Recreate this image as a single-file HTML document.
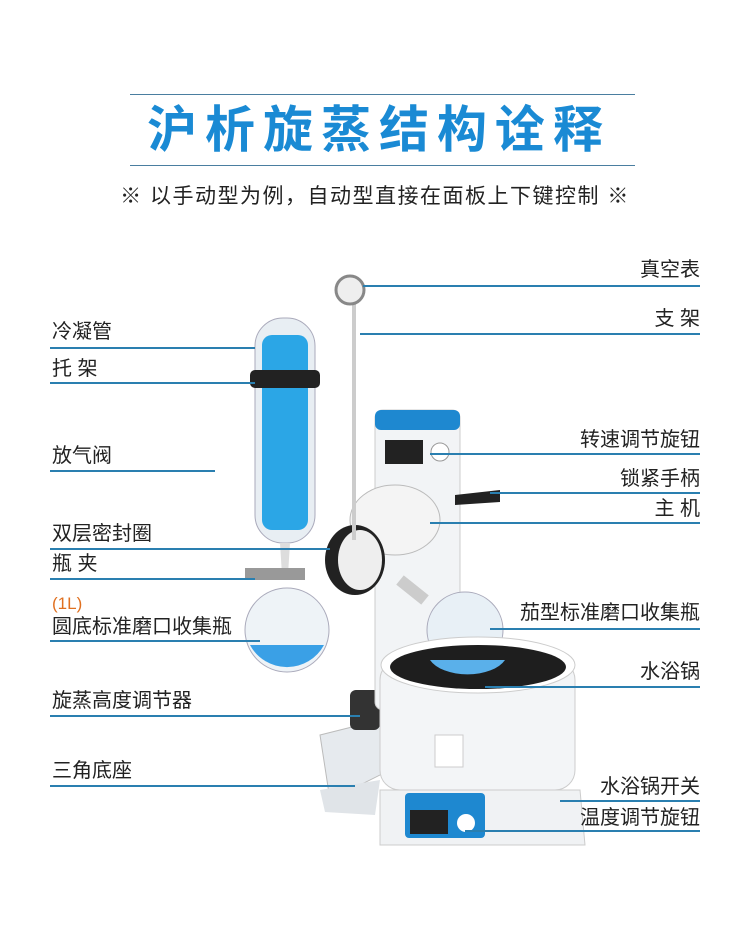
<!DOCTYPE html>
<html><head><meta charset="utf-8"><style>
body{margin:0;background:#fff;}
.w{position:relative;width:750px;height:940px;overflow:hidden;font-family:"Liberation Sans","Noto Sans CJK SC",sans-serif;}
.t{position:absolute;font-size:20px;color:#222;white-space:nowrap;line-height:1;}
.r{text-align:right;right:50px;}
.l{left:52px;}
.ln{position:absolute;height:1.5px;background:#2a7fb0;}
</style></head><body><div class="w">
<div style="position:absolute;left:130px;top:94px;width:505px;height:1px;background:#4a7ea0"></div>
<div style="position:absolute;left:130px;top:165px;width:505px;height:1px;background:#4a7ea0"></div>
<div style="position:absolute;left:0;width:750px;top:100px;text-align:center;font-size:50px;font-weight:bold;color:#1a8ad4;letter-spacing:8px;text-indent:8px;line-height:60px">沪析旋蒸结构诠释</div>
<div style="position:absolute;left:0;width:750px;top:180px;text-align:center;font-size:21px;letter-spacing:1.5px;color:#222;">※ 以手动型为例，自动型直接在面板上下键控制 ※</div>

<svg width="750" height="940" style="position:absolute;left:0;top:0">
<path d="M320 735 L380 720 L390 770 L330 800 Z" fill="#e6eaee" stroke="#bbb"/>
<path d="M320 790 L380 780 L375 815 L325 812 Z" fill="#e0e4e8"/>
<rect x="350" y="690" width="30" height="40" rx="6" fill="#333"/>
<rect x="375" y="410" width="85" height="300" rx="8" fill="#f2f4f6" stroke="#ccc"/>
<rect x="375" y="410" width="85" height="20" rx="6" fill="#1e88d0"/>
<rect x="385" y="440" width="38" height="24" fill="#222"/>
<circle cx="440" cy="452" r="9" fill="#fff" stroke="#999"/>
<path d="M455 495 L500 490 L500 502 L455 505Z" fill="#222"/>
<ellipse cx="395" cy="520" rx="45" ry="35" fill="#f4f4f4" stroke="#bbb"/>
<ellipse cx="355" cy="560" rx="30" ry="35" fill="#222"/>
<ellipse cx="360" cy="560" rx="22" ry="30" fill="#eee"/>
<rect x="352" y="300" width="4" height="240" fill="#ccc"/>
<circle cx="350" cy="290" r="14" fill="#eee" stroke="#888" stroke-width="3"/>
<rect x="255" y="318" width="60" height="225" rx="28" fill="#e8eef3" stroke="#aab"/>
<rect x="262" y="335" width="46" height="195" rx="10" fill="#2ba6e6"/>
<rect x="250" y="370" width="70" height="18" rx="5" fill="#222"/>
<path d="M280 543 L290 543 L288 575 L282 575Z" fill="#ddd"/>
<rect x="245" y="568" width="60" height="12" fill="#999"/>
<circle cx="287" cy="630" r="42" fill="#eef3f7" stroke="#aab"/>
<path d="M250 645 A42 42 0 0 0 324 645 Z" fill="#3aa0e6"/>
<path d="M400 580 L425 600" stroke="#ccc" stroke-width="12"/>
<circle cx="465" cy="630" r="38" fill="#e8f0f6" stroke="#aab"/>
<rect x="380" y="660" width="195" height="130" rx="20" fill="#f3f5f7" stroke="#ccc"/>
<ellipse cx="478" cy="665" rx="97" ry="28" fill="#fff" stroke="#ccc"/>
<ellipse cx="478" cy="667" rx="88" ry="22" fill="#1e1e1e"/>
<path d="M430 660 A40 22 0 0 0 505 660 Z" fill="#5ab0ea"/>
<rect x="435" y="735" width="28" height="32" fill="#fff" stroke="#ccc"/>
<path d="M380 790 L580 790 L585 845 L380 845 Z" fill="#f0f2f4" stroke="#ccc"/>
<rect x="405" y="793" width="80" height="45" rx="4" fill="#1e88d0"/>
<rect x="410" y="810" width="38" height="24" fill="#222"/>
<circle cx="466" cy="823" r="9" fill="#fff"/>
</svg>

<div class="ln" style="left:50px;width:205px;top:347px"></div>
<div class="ln" style="left:50px;width:205px;top:382px"></div>
<div class="ln" style="left:50px;width:165px;top:470px"></div>
<div class="ln" style="left:50px;width:280px;top:548px"></div>
<div class="ln" style="left:50px;width:205px;top:578px"></div>
<div class="ln" style="left:50px;width:210px;top:640px"></div>
<div class="ln" style="left:50px;width:310px;top:715px"></div>
<div class="ln" style="left:50px;width:305px;top:785px"></div>

<div class="ln" style="left:363px;width:337px;top:285px"></div>
<div class="ln" style="left:360px;width:340px;top:333px"></div>
<div class="ln" style="left:430px;width:270px;top:453px"></div>
<div class="ln" style="left:490px;width:210px;top:492px"></div>
<div class="ln" style="left:430px;width:270px;top:522px"></div>
<div class="ln" style="left:490px;width:210px;top:628px"></div>
<div class="ln" style="left:485px;width:215px;top:686px"></div>
<div class="ln" style="left:560px;width:140px;top:800px"></div>
<div class="ln" style="left:465px;width:235px;top:830px"></div>

<div class="t l" style="top:322px">冷凝管</div>
<div class="t l" style="top:359px">托 架</div>
<div class="t l" style="top:446px">放气阀</div>
<div class="t l" style="top:524px">双层密封圈</div>
<div class="t l" style="top:554px">瓶 夹</div>
<div class="t l" style="top:595px;color:#e07020;font-size:17px">(1L)</div>
<div class="t l" style="top:617px">圆底标准磨口收集瓶</div>
<div class="t l" style="top:691px">旋蒸高度调节器</div>
<div class="t l" style="top:761px">三角底座</div>

<div class="t r" style="top:260px">真空表</div>
<div class="t r" style="top:309px">支 架</div>
<div class="t r" style="top:430px">转速调节旋钮</div>
<div class="t r" style="top:469px">锁紧手柄</div>
<div class="t r" style="top:499px">主 机</div>
<div class="t r" style="top:603px">茄型标准磨口收集瓶</div>
<div class="t r" style="top:662px">水浴锅</div>
<div class="t r" style="top:777px">水浴锅开关</div>
<div class="t r" style="top:808px">温度调节旋钮</div>
</div></body></html>
